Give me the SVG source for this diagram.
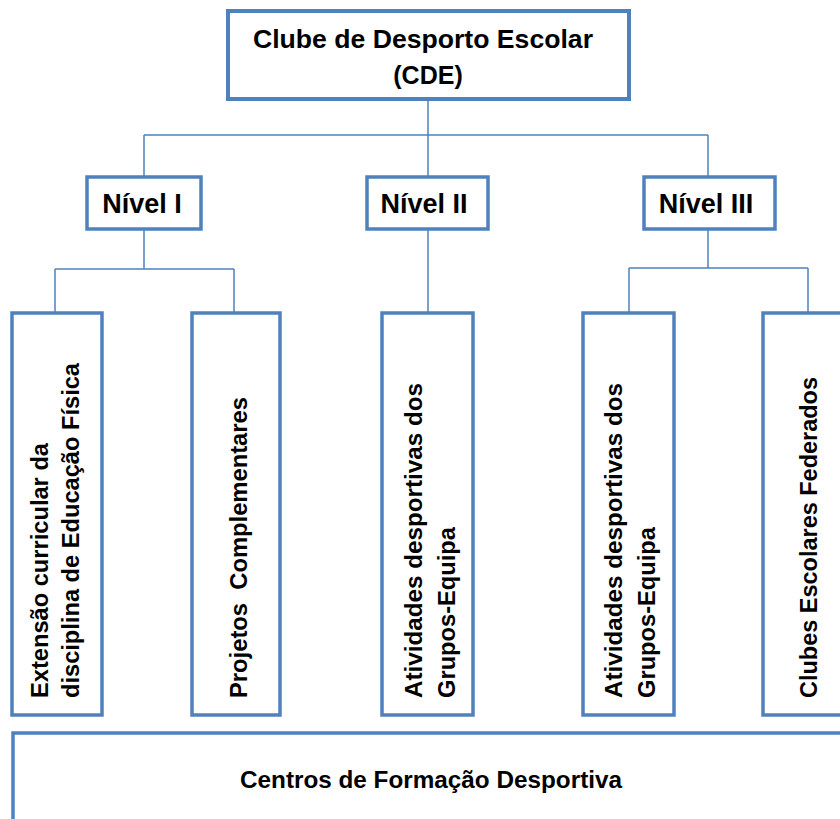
<svg xmlns="http://www.w3.org/2000/svg" width="840" height="819" viewBox="0 0 840 819">
<style>
.box{fill:#ffffff;stroke:#4F81BD;stroke-width:3.5}
.top{stroke-width:4}
.conn{fill:none;stroke:#4F81BD;stroke-width:1.5}
.t{font-family:"Liberation Sans",Arial,sans-serif;font-weight:bold;fill:#000000}
.lvl{font-size:27px;text-anchor:middle}
.v{font-size:24px}
</style>
<rect x="0" y="0" width="840" height="819" fill="#ffffff"/>
<g id="connectors">
<path class="conn" d="M428,99V135M144,135H708M144,135V177M428,135V177M708,135V177"/>
<path class="conn" d="M144,229V269M55,269H234M55,269V313M234,269V313"/>
<path class="conn" d="M428,229V313"/>
<path class="conn" d="M708,229V268M629,268H808M629,268V313M808,268V313"/>
</g>
<g id="cde">
<rect class="box top" x="228" y="11" width="401" height="88"/>
<text class="t" x="253" y="48" font-size="25" textLength="340" lengthAdjust="spacingAndGlyphs">Clube de Desporto Escolar</text>
<text class="t" x="428" y="84" font-size="25" text-anchor="middle">(CDE)</text>
</g>
<g id="nivel1">
<rect class="box" x="87" y="177" width="114" height="52"/>
<text class="t lvl" x="142" y="213">Nível I</text>
</g>
<g id="nivel2">
<rect class="box" x="367" y="177" width="121" height="52"/>
<text class="t lvl" x="424" y="213">Nível II</text>
</g>
<g id="nivel3">
<rect class="box" x="644" y="177" width="131" height="52"/>
<text class="t lvl" x="706" y="213">Nível III</text>
</g>
<g id="extensao">
<rect class="box" x="12" y="313" width="90" height="402"/>
<text class="t v" transform="translate(48,698) rotate(-90)" textLength="255" lengthAdjust="spacingAndGlyphs">Extensão curricular da</text>
<text class="t v" transform="translate(79,698) rotate(-90)" textLength="335" lengthAdjust="spacingAndGlyphs">disciplina de Educação Física</text>
</g>
<g id="projetos">
<rect class="box" x="192" y="313" width="88" height="402"/>
<text class="t v" transform="translate(247,698) rotate(-90)" textLength="301" lengthAdjust="spacingAndGlyphs" xml:space="preserve">Projetos  Complementares</text>
</g>
<g id="atividades2">
<rect class="box" x="382" y="313" width="91" height="402"/>
<text class="t v" transform="translate(422,698) rotate(-90)" textLength="315" lengthAdjust="spacingAndGlyphs">Atividades desportivas dos</text>
<text class="t v" transform="translate(455,698) rotate(-90)" textLength="171" lengthAdjust="spacingAndGlyphs">Grupos-Equipa</text>
</g>
<g id="atividades3">
<rect class="box" x="583" y="313" width="91" height="402"/>
<text class="t v" transform="translate(622,698) rotate(-90)" textLength="315" lengthAdjust="spacingAndGlyphs">Atividades desportivas dos</text>
<text class="t v" transform="translate(655,698) rotate(-90)" textLength="171" lengthAdjust="spacingAndGlyphs">Grupos-Equipa</text>
</g>
<g id="clubes">
<rect class="box" x="763" y="313" width="100" height="402"/>
<text class="t v" transform="translate(817,698) rotate(-90)" textLength="321" lengthAdjust="spacingAndGlyphs">Clubes Escolares Federados</text>
</g>
<g id="centros">
<rect class="box" x="13" y="733" width="850" height="100"/>
<text class="t" x="240" y="788" font-size="24" textLength="382" lengthAdjust="spacingAndGlyphs">Centros de Formação Desportiva</text>
</g>
</svg>
